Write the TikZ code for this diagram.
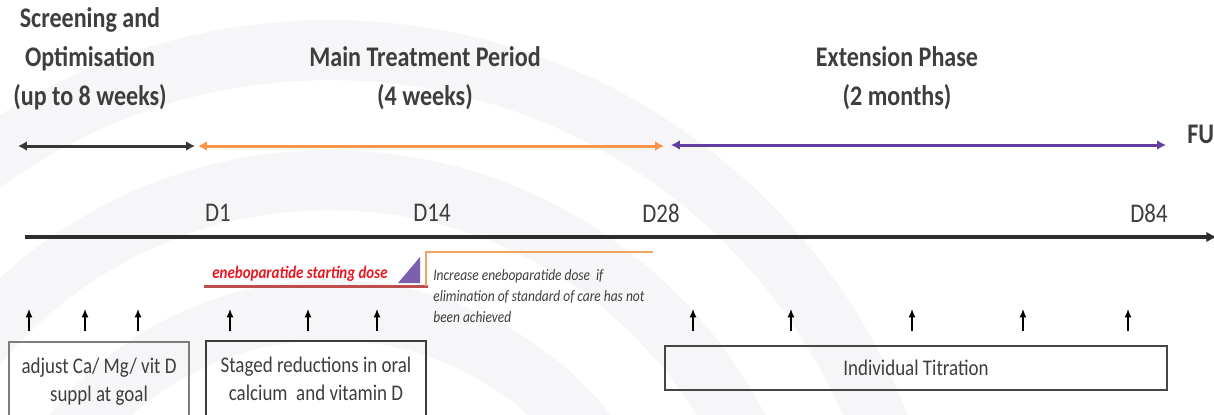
\documentclass[tikz,border=0pt]{standalone}
\usepackage{fontspec}
\usepackage{graphicx}
\setmainfont{Carlito}
\usetikzlibrary{arrows.meta}
\definecolor{txt}{RGB}{62,62,62}
\definecolor{orangeA}{RGB}{245,150,72}
\definecolor{orangeB}{RGB}{240,165,95}
\definecolor{purpA}{RGB}{98,62,160}
\definecolor{purpT}{RGB}{125,95,175}
\definecolor{redT}{RGB}{232,24,34}
\definecolor{redL}{RGB}{190,78,76}
\definecolor{wm}{RGB}{246,246,248}
\definecolor{dk1}{RGB}{55,55,55}
\definecolor{dk2}{RGB}{45,45,45}
\definecolor{bx1}{RGB}{125,125,125}
\definecolor{bx2}{RGB}{60,60,60}
\definecolor{bx3}{RGB}{70,70,70}
\newcommand{\vstretch}[1]{\scalebox{1}[1.18]{#1}}
\newcommand{\ctab}[1]{\vstretch{\begin{tabular}{@{}c@{}}#1\end{tabular}}}
\newcommand{\ltab}[1]{\vstretch{\begin{tabular}{@{}l@{}}#1\end{tabular}}}
\tikzset{
  title/.style={font=\fontsize{13.7}{18.8}\selectfont\bfseries, text=txt, inner sep=0pt},
  dlab/.style={font=\fontsize{13}{15}\selectfont, text=txt, inner sep=0pt},
  period/.style={line width=1.7pt, {Latex[length=5pt,width=5.5pt]}-{Latex[length=5pt,width=5.5pt]}},
  uparrow/.style={line width=0.7pt, black, -{Latex[length=4.8pt,width=4pt]}},
  boxnode/.style={draw, line width=0.85pt, text=txt, inner sep=0pt,
     font=\fontsize{10.8}{13.6}\selectfont},
}
\begin{document}
\begin{tikzpicture}[x=0.02cm,y=-0.02cm]
\useasboundingbox (0,0) rectangle (1214,414);
\fill[white] (0,0) rectangle (1214,414);
% faint watermark arcs
\begin{scope}
\clip (0,0) rectangle (1214,414);
\draw[wm, line width=1.2cm] (330,640) circle[radius=11.8cm];
\draw[wm, line width=1.2cm] (330,640) circle[radius=9.2cm];
\draw[wm, line width=1.2cm] (330,640) circle[radius=6.6cm];
\end{scope}

% titles
\node[title] (t1) at (90,59) {\ctab{Screening and\\Optimisation\\(up to 8 weeks)}};
\node[title] (t2) at (425,78) {\ctab{Main Treatment Period\\(4 weeks)}};
\node[title] (t3) at (897,78) {\ctab{Extension Phase\\(2 months)}};
\node[title, anchor=west] (fu) at (1187,134) {\vstretch{FU}};

% period arrows
\coordinate (s0) at (18,146); \coordinate (s1) at (195,146);
\coordinate (m0) at (198,146); \coordinate (m1) at (664,146);
\coordinate (e0) at (671,145); \coordinate (e1) at (1166,145);
\draw[period, dk1] (s0) -- (s1);
\draw[period, orangeA] (m0) -- (m1);
\draw[period, purpA] (e0) -- (e1);

% day labels
\node[dlab] (d1) at (218,213) {\vstretch{D1}};
\node[dlab] (d14) at (432,213) {\vstretch{D14}};
\node[dlab] (d28) at (661,213) {\vstretch{D28}};
\node[dlab] (d84) at (1149,213) {\vstretch{D84}};

% main timeline
\coordinate (tl0) at (25,237); \coordinate (tl1) at (1217,237);
\draw[line width=1.8pt, dk2, -{Latex[length=6pt,width=6pt]}] (tl0) -- (tl1);

% dosing
\coordinate (r0) at (204,286); \coordinate (r1) at (428,286);
\draw[line width=1.7pt, redL] (r0) -- (r1);
\coordinate (o0) at (426,286); \coordinate (o1) at (426,252); \coordinate (o2) at (653,252);
\draw[line width=1.4pt, orangeB] (o0) -- (o1) -- (o2);
\fill[purpT] (398,283) -- (420,283) -- (420,257) -- cycle;
\node[font=\fontsize{8.5}{10}\selectfont\bfseries\itshape, text=redT, inner sep=0pt] (start) at (300,274) {\vstretch{eneboparatide starting dose}};
\node[font=\fontsize{7.65}{10.2}\selectfont\itshape, text=txt, anchor=west, inner sep=0pt] (incr) at (433,297)
  {\ltab{Increase eneboparatide dose~ if\\elimination of standard of care has not\\been achieved}};

% up arrows
\foreach \n/\x in {a1/29,a2/85,a3/138,a4/230,a5/308,a6/377,a7/693,a8/791,a9/912,a10/1023,a11/1128}{
  \coordinate (\n b) at (\x,331);
  \coordinate (\n t) at (\x,309);
  \draw[uparrow] (\n b) -- (\n t);
}

% boxes
\node[boxnode, draw=bx1, minimum width=3.6cm, minimum height=1.6cm] (b1) at (99,382)
  {\ctab{adjust Ca/ Mg/ vit D\\suppl at goal}};
\node[boxnode, draw=bx2, minimum width=4.4cm, minimum height=1.6cm] (b2) at (316,381)
  {\ctab{Staged reductions in oral\\calcium~ and vitamin D}};
\node[boxnode, draw=bx3, minimum width=10.04cm, minimum height=0.88cm] (b3) at (916,368)
  {\vstretch{Individual Titration}};
\end{tikzpicture}
\end{document}
